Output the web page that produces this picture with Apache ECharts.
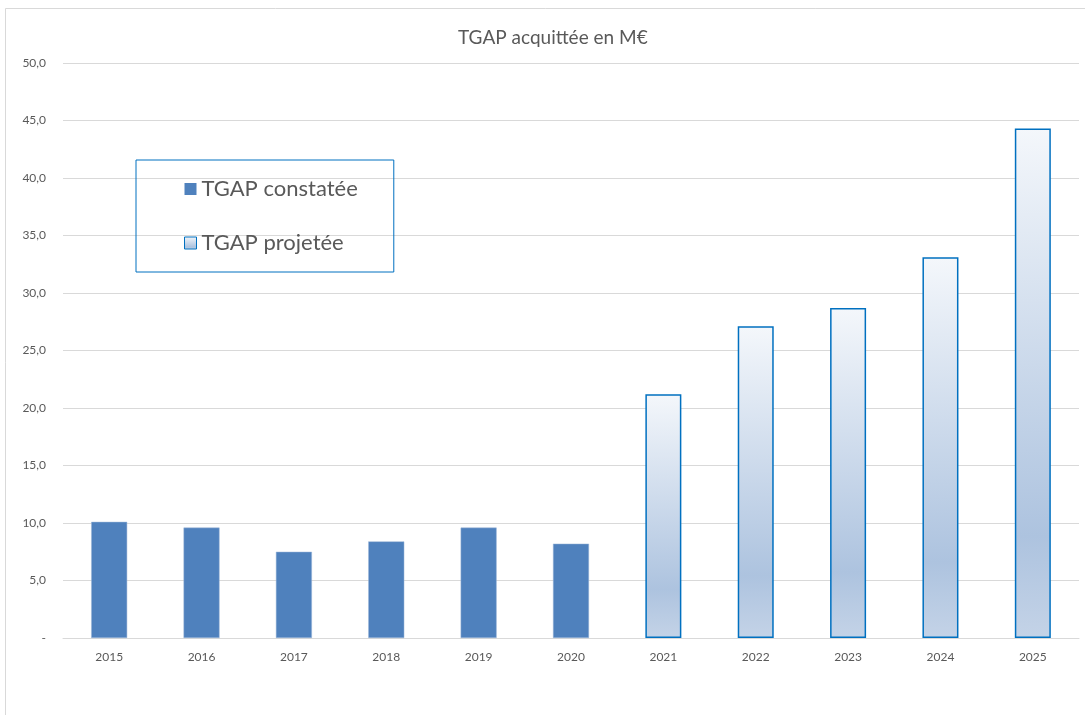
<!DOCTYPE html>
<html><head><meta charset="utf-8">
<script src="https://cdn.jsdelivr.net/npm/echarts@6/dist/echarts.min.js"></script>
<style>html,body{margin:0;padding:0;background:#fff}#c{width:1085px;height:715px}</style>
</head><body><div id="c"></div>
<script>
const years = ['2015','2016','2017','2018','2019','2020','2021','2022','2023','2024','2025'];
const constatee = [10.1, 9.6, 7.5, 8.4, 9.6, 8.2, null, null, null, null, null];
const projetee = [null, null, null, null, null, null, 21.2, 27.1, 28.7, 33.1, 44.3];
const titleText = 'TGAP acquittée en M€';
const seriesNames = ['TGAP constatée', 'TGAP projetée'];

const FONT = 'Lato';
const grad = new echarts.graphic.LinearGradient(0, 0, 0, 1, [
  {offset: 0, color: '#f4f7fb'},
  {offset: 0.8, color: '#adc3df'},
  {offset: 1, color: '#c4d3e7'}
]);
const chart = echarts.init(document.getElementById('c'), null, {renderer: 'canvas'});
chart.setOption({
  animation: false,
  backgroundColor: '#fff',
  textStyle: {fontFamily: FONT},
  graphic: [{type: 'rect', shape: {x: 5.5, y: 8.5, width: 1090, height: 720}, style: {fill: 'none', stroke: '#d9d9d9', lineWidth: 1}, silent: true}],
  title: {text: titleText, left: 453, top: 23, textStyle: {fontFamily: FONT, fontSize: 19, fontWeight: 'normal', color: '#595959'}},
  legend: {
    orient: 'vertical', left: 136, top: 160,
    padding: [18, 36, 18, 48], itemGap: 32,
    borderColor: '#0070c0', borderWidth: 1,
    itemWidth: 12, itemHeight: 12, icon: 'rect',
    textStyle: {fontFamily: FONT, fontSize: 22, color: '#595959'},
    data: [
      {name: seriesNames[0], itemStyle: {color: '#4f81bd', borderWidth: 0}},
      {name: seriesNames[1], itemStyle: {color: grad, borderColor: '#0070c0', borderWidth: 1}}
    ]
  },
  grid: {left: 63, right: 6, top: 63, bottom: 77, containLabel: false},
  xAxis: {
    type: 'category', data: years,
    axisLine: {lineStyle: {color: '#d9d9d9', width: 1}},
    axisTick: {show: false},
    axisLabel: {fontFamily: FONT, fontSize: 12, color: '#595959', margin: 13}
  },
  yAxis: {
    type: 'value', min: 0, max: 50, interval: 5,
    axisLine: {show: false}, axisTick: {show: false},
    splitLine: {lineStyle: {color: '#d9d9d9', width: 1}},
    axisLabel: {fontFamily: FONT, fontSize: 12, color: '#595959', margin: 17,
      formatter: v => v === 0 ? '-' : v.toFixed(1).replace('.', ',')}
  },
  series: [
    {name: seriesNames[0], type: 'bar', data: constatee, barWidth: 36, barGap: '-100%',
      itemStyle: {color: '#4f81bd', borderColor: '#9db6d8', borderWidth: 0.5}},
    {name: seriesNames[1], type: 'bar', data: projetee, barWidth: 36, barGap: '-100%',
      itemStyle: {color: grad, borderColor: '#0070c0', borderWidth: 1.5}}
  ]
});
</script></body></html>
